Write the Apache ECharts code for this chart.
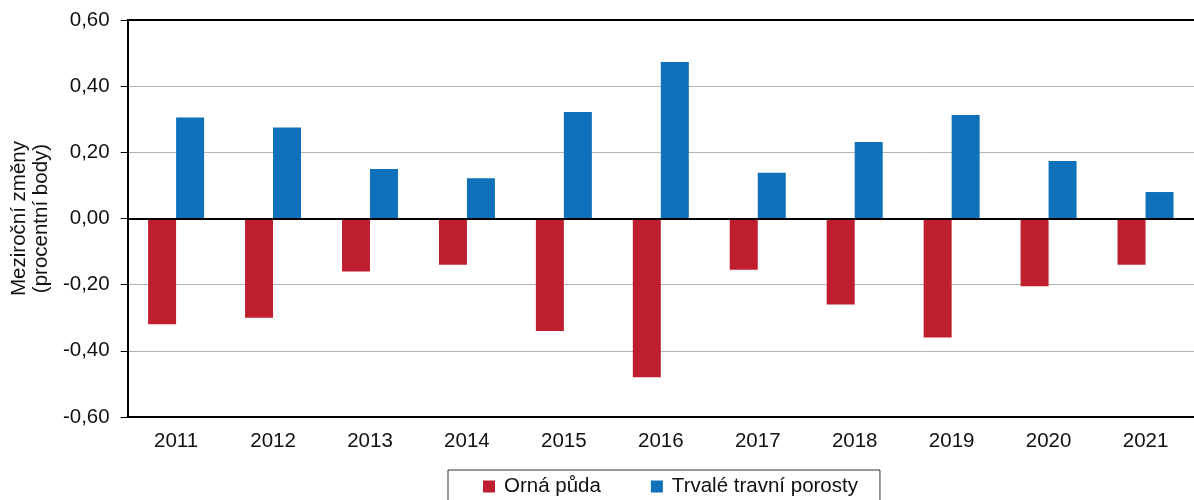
<!DOCTYPE html>
<html>
<head>
<meta charset="utf-8">
<script src="https://cdn.jsdelivr.net/npm/echarts@6/dist/echarts.min.js"></script>
<style>
  html, body { margin: 0; padding: 0; background: #fff; }
  #graf { width: 1194px; height: 500px; }
</style>
</head>
<body>
<div id="graf"></div>
<script>
var roky = ['2011', '2012', '2013', '2014', '2015', '2016', '2017', '2018', '2019', '2020', '2021'];
var ornaPuda = [-0.32, -0.30, -0.16, -0.14, -0.34, -0.48, -0.155, -0.26, -0.36, -0.205, -0.14];
var trvaleTravniPorosty = [0.305, 0.275, 0.15, 0.122, 0.322, 0.473, 0.138, 0.231, 0.313, 0.174, 0.08];

var graf = echarts.init(document.getElementById('graf'));

function cislo(v) {
    return v.toFixed(2).replace('.', ',');
}

var font = 'Liberation Sans, Arial, sans-serif';

option = {
    animation: false,
    textStyle: { fontFamily: font },
    grid: { left: 126, right: 0, top: 20, bottom: 83 },
    legend: {
        left: 448,
        top: 470,
        padding: [6, 22, 6, 35],
        borderColor: '#333',
        borderWidth: 1,
        itemWidth: 12,
        itemHeight: 12,
        itemGap: 50,
        icon: 'rect',
        textStyle: { fontSize: 20.5, color: '#111', fontFamily: font, padding: [0, 0, 0, 4] },
        data: ['Orná půda', 'Trvalé travní porosty']
    },
    xAxis: [{
        type: 'category',
        data: roky,
        position: 'bottom',
        axisLine: { onZero: false, lineStyle: { color: '#000', width: 2 } },
        axisTick: { show: false },
        axisLabel: { fontSize: 20.5, color: '#111', margin: 14, fontFamily: font }
    }, {
        type: 'category',
        data: roky,
        position: 'top',
        axisLine: { onZero: false, lineStyle: { color: '#000', width: 2 } },
        axisTick: { show: false },
        axisLabel: { show: false }
    }],
    yAxis: {
        type: 'value',
        min: -0.6,
        max: 0.6,
        interval: 0.2,
        name: 'Meziroční změny\n(procentní body)',
        nameLocation: 'middle',
        nameGap: 72,
        nameTextStyle: { fontSize: 20.5, color: '#111', lineHeight: 22, fontFamily: font },
        axisLine: { show: true, lineStyle: { color: '#000', width: 2 } },
        axisTick: { show: true, inside: false, length: 7, lineStyle: { color: '#000', width: 1 } },
        axisLabel: { fontSize: 20.5, color: '#111', margin: 18, formatter: cislo, fontFamily: font },
        splitLine: { show: true, lineStyle: { color: '#b4b4b4', width: 1 } }
    },
    series: [{
        name: 'Orná půda',
        type: 'bar',
        data: ornaPuda,
        barWidth: 28,
        barGap: '0%',
        itemStyle: { color: '#be1e2d' },
        markLine: {
            silent: true,
            symbol: 'none',
            label: { show: false },
            lineStyle: { color: '#000', width: 2, type: 'solid' },
            data: [{ yAxis: 0 }]
        }
    }, {
        name: 'Trvalé travní porosty',
        type: 'bar',
        data: trvaleTravniPorosty,
        barWidth: 28,
        barGap: '0%',
        itemStyle: { color: '#0f71b9' }
    }]
};

graf.setOption(option, true);
</script>
</body>
</html>
